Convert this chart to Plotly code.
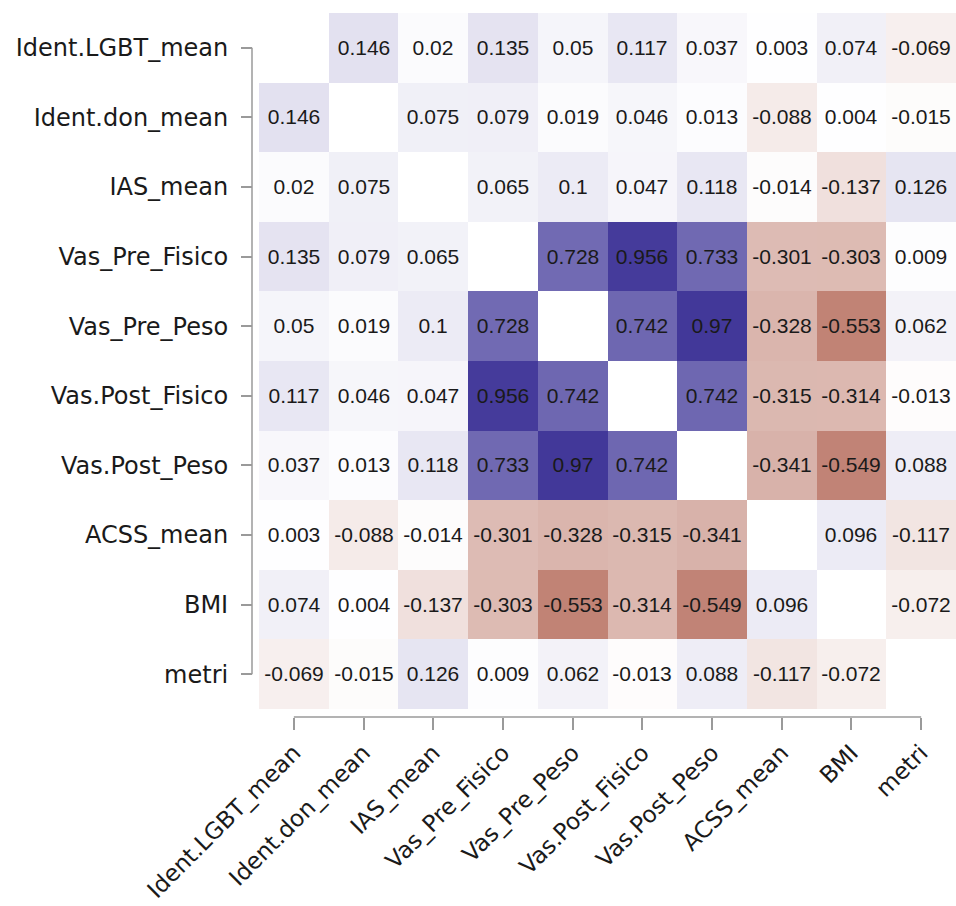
import plotly.graph_objects as go

labels = ["Ident.LGBT_mean", "Ident.don_mean", "IAS_mean", "Vas_Pre_Fisico",
          "Vas_Pre_Peso", "Vas.Post_Fisico", "Vas.Post_Peso", "ACSS_mean", "BMI", "metri"]

row_lgbt = [None, 0.146, 0.02, 0.135, 0.05, 0.117, 0.037, 0.003, 0.074, -0.069]
row_don = [0.146, None, 0.075, 0.079, 0.019, 0.046, 0.013, -0.088, 0.004, -0.015]
row_ias = [0.02, 0.075, None, 0.065, 0.1, 0.047, 0.118, -0.014, -0.137, 0.126]
row_prefis = [0.135, 0.079, 0.065, None, 0.728, 0.956, 0.733, -0.301, -0.303, 0.009]
row_prepeso = [0.05, 0.019, 0.1, 0.728, None, 0.742, 0.97, -0.328, -0.553, 0.062]
row_postfis = [0.117, 0.046, 0.047, 0.956, 0.742, None, 0.742, -0.315, -0.314, -0.013]
row_postpeso = [0.037, 0.013, 0.118, 0.733, 0.97, 0.742, None, -0.341, -0.549, 0.088]
row_acss = [0.003, -0.088, -0.014, -0.301, -0.328, -0.315, -0.341, None, 0.096, -0.117]
row_bmi = [0.074, 0.004, -0.137, -0.303, -0.553, -0.314, -0.549, 0.096, None, -0.072]
row_metri = [-0.069, -0.015, 0.126, 0.009, 0.062, -0.013, 0.088, -0.117, -0.072, None]

z = [row_lgbt, row_don, row_ias, row_prefis, row_prepeso,
     row_postfis, row_postpeso, row_acss, row_bmi, row_metri]
text = [["" if v is None else f"{v:g}" for v in row] for row in z]

W, H = 956, 906
ml, mr, mt, mb = 240, 0, 13, 176
pw = W - ml - mr
ph = H - mt - mb

fig = go.Figure(go.Heatmap(
    z=z, x=labels, y=labels, text=text, texttemplate="%{text}",
    textfont=dict(family="Liberation Sans, Arial, sans-serif", size=21, color="#1a1a1a"),
    colorscale=[[0, "rgb(142,30,5)"], [0.5, "rgb(255,255,255)"], [1, "rgb(60,50,150)"]],
    zmin=-1, zmax=1, showscale=False, hoverongaps=False,
))

axis_color = "#9a9a9a"
ytickfont = dict(family="DejaVu Sans, sans-serif", size=24, color="#1a1a1a")
xtickfont = dict(family="DejaVu Sans, sans-serif", size=23.2, color="#1a1a1a")

fig.update_layout(
    width=W, height=H,
    margin=dict(l=ml, r=mr, t=mt, b=mb, pad=0, autoexpand=False),
    paper_bgcolor="white", plot_bgcolor="white",
    xaxis=dict(domain=[19 / pw, 1], anchor="free", position=13 / ph, automargin=False,
               ticks="outside", ticklen=12, tickwidth=1.5, tickcolor=axis_color,
               showline=False, showgrid=False, zeroline=False, tickangle=-45,
               ticklabelstandoff=0, tickfont=xtickfont),
    yaxis=dict(domain=[21 / ph, 1], anchor="free", position=12 / pw, automargin=False,
               ticks="outside", ticklen=11, tickwidth=1.5, tickcolor=axis_color,
               showline=False, showgrid=False, zeroline=False, autorange="reversed",
               ticklabelstandoff=8, tickfont=ytickfont),
    shapes=[
        dict(type="line", xref="paper", yref="y", x0=12 / pw, x1=12 / pw,
             y0=0, y1=len(labels) - 1, line=dict(color=axis_color, width=1.5)),
        dict(type="line", xref="x", yref="paper", x0=0, x1=len(labels) - 1,
             y0=13 / ph, y1=13 / ph, line=dict(color=axis_color, width=1.5)),
    ],
)

fig.write_html("out.html", config={"displayModeBar": False},
               post_script="document.body.style.margin='0px';document.body.style.overflow='hidden';")
